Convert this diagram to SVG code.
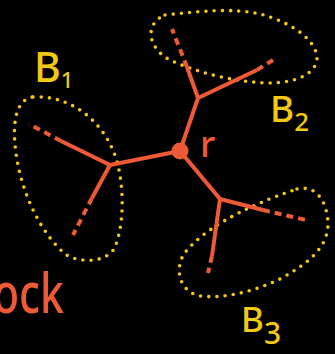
<svg xmlns="http://www.w3.org/2000/svg" width="335" height="354" viewBox="0 0 335 354">
<style>
.bg{fill:#000}
.edge{stroke:#ee5a35;stroke-width:4;stroke-linecap:butt;fill:none}
.dash{stroke:#ee5a35;stroke-width:4;fill:none;stroke-dasharray:7 5}
.blob{stroke:#f2c811;stroke-width:3.6;fill:none;stroke-linecap:round;stroke-dasharray:0 8.2}
.lab{fill:#f2c811;font-family:"Noto Sans","DejaVu Sans",sans-serif;font-weight:500}
.olab{fill:#ee5a35;font-family:"Noto Sans","DejaVu Sans",sans-serif;font-weight:500}
</style>
<rect class="bg" x="0" y="0" width="335" height="354"/>
<g id="blobs">
<path id="B1-set" class="blob" d="M33,97 C70,95 103,120 116,158 C125,188 124,228 114,249 C106,262 80,264 65,254 C44,236 24,200 17,160 C12,130 13,100 33,97 Z"/>
<path id="B2-set" class="blob" d="M165,15 C200,11 235,8 260,14 C290,22 314,38 317,56 C318,72 300,82 272,83 C240,83 200,74 170,60 C150,50 142,25 165,15 Z"/>
<path id="B3-set" class="blob" d="M297,189 C318,184 328,205 328,225 C327,250 305,265 280,279 C255,291 225,299 200,296 C180,292 174,270 184,254 C200,232 240,208 297,189 Z"/>
</g>
<g id="connectors">
<line class="edge" x1="180" y1="151" x2="110" y2="165"/>
<line class="edge" x1="180" y1="151" x2="198" y2="98"/>
<line class="edge" x1="180" y1="151" x2="220" y2="199"/>
<line class="edge" x1="110" y1="165" x2="61" y2="141"/>
<line class="dash" x1="61" y1="141" x2="29" y2="124"/>
<line class="edge" x1="110" y1="165" x2="92" y2="198"/>
<line class="dash" x1="92" y1="198" x2="73" y2="235"/>
<line class="edge" x1="198" y1="98" x2="187" y2="67"/>
<line class="dash" x1="187" y1="67" x2="172" y2="29"/>
<line class="edge" x1="198" y1="98" x2="257" y2="70"/>
<line class="dash" x1="257" y1="70" x2="273" y2="60"/>
<line class="edge" x1="220" y1="199" x2="263" y2="210"/>
<line class="dash" x1="263" y1="210" x2="306" y2="220"/>
<line class="edge" x1="220" y1="199" x2="212" y2="256"/>
<line class="dash" x1="212" y1="256" x2="208" y2="273"/>
</g>
<g id="node-r">
<circle cx="180" cy="151" r="8.5" fill="#ee5a35"/>
<text class="olab" x="200" y="157" font-size="36">r</text>
</g>
<g id="label-B1">
<text class="lab" x="34" y="82" font-size="41">B<tspan font-size="22" dy="6">1</tspan></text>
</g>
<g id="label-B2">
<text class="lab" x="270" y="122" font-size="37">B<tspan font-size="26" dy="9">2</tspan></text>
</g>
<g id="label-B3">
<text class="lab" x="241" y="332" font-size="35">B<tspan font-size="30" dy="12">3</tspan></text>
</g>
<text class="olab" x="-7" y="313" font-size="56" textLength="71" lengthAdjust="spacingAndGlyphs">ock</text>
</svg>
